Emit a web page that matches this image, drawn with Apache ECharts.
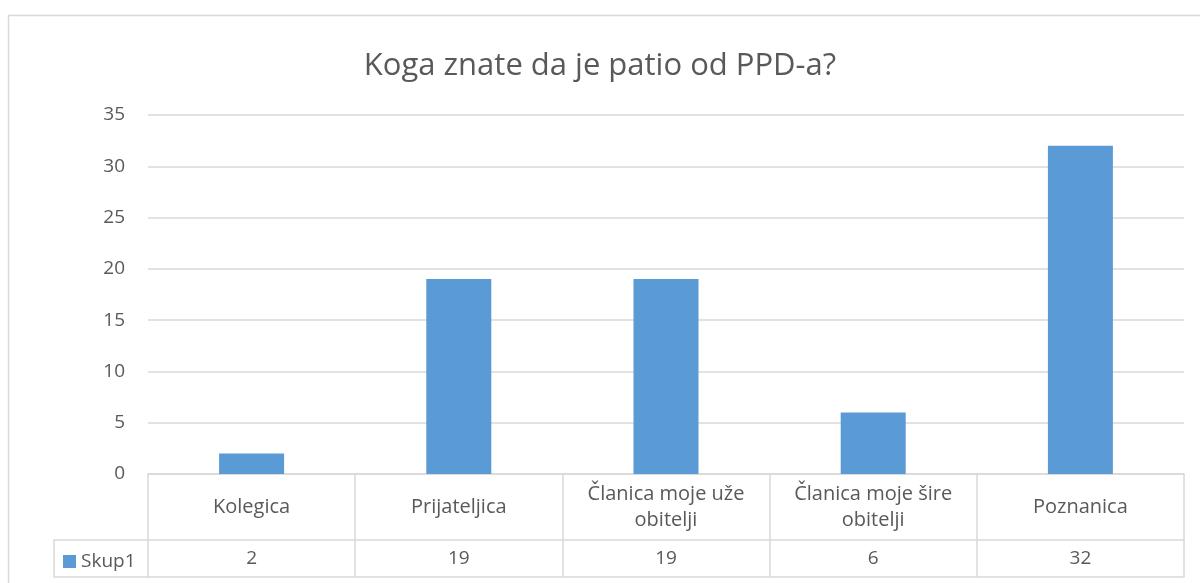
<!DOCTYPE html>
<html>
<head>
<meta charset="utf-8">
<script src="https://cdn.jsdelivr.net/npm/echarts@6/dist/echarts.min.js"></script>
<style>
  html, body { margin: 0; padding: 0; background: #fff; }
  #chart { width: 1200px; height: 583px; }
</style>
</head>
<body>
<div id="chart"></div>
<script>
var categories = ['Kolegica', 'Prijateljica', 'Članica moje uže\nobitelji', 'Članica moje šire\nobitelji', 'Poznanica'];
var values = [2, 19, 19, 6, 32];
var seriesName = 'Skup1';

var FONT = 'Open Sans';
var TXT = '#595959';
var LINE = '#d9d9d9';

var myChart = echarts.init(document.getElementById('chart'));
var option = {
  animation: false,
  textStyle: { fontFamily: FONT },
  title: {
    text: 'Koga znate da je patio od PPD-a?',
    left: 'center',
    top: 46,
    textStyle: { fontFamily: FONT, fontSize: 31, fontWeight: 'normal', color: TXT }
  },
  legend: {
    left: 63,
    top: 552,
    icon: 'rect',
    itemWidth: 13,
    itemHeight: 13,
    itemGap: 5,
    padding: 0,
    textStyle: { fontFamily: FONT, fontSize: 19, color: TXT },
    data: [seriesName]
  },
  grid: { left: 148, right: 16, top: 115, bottom: 109, containLabel: false },
  xAxis: [
    {
      type: 'category',
      data: categories,
      axisLine: { lineStyle: { color: LINE, width: 1.5 } },
      axisTick: { show: true, interval: 0, length: 103, lineStyle: { color: LINE, width: 1.5 } },
      axisLabel: {
        interval: 0, margin: 33, verticalAlign: 'middle',
        fontFamily: FONT, fontSize: 20, lineHeight: 26, color: TXT
      }
    },
    {
      type: 'category',
      data: categories,
      position: 'bottom',
      offset: 66,
      axisLine: { lineStyle: { color: LINE, width: 1.5 } },
      axisTick: { show: false },
      axisLabel: {
        interval: 0, margin: 19, verticalAlign: 'middle',
        fontFamily: FONT, fontSize: 19, color: TXT,
        formatter: function (v, i) { return String(values[i]); }
      }
    },
    {
      type: 'category',
      data: categories,
      position: 'bottom',
      offset: 103,
      axisLine: { lineStyle: { color: LINE, width: 1.5 } },
      axisTick: { show: false },
      axisLabel: { show: false }
    }
  ],
  yAxis: {
    type: 'value',
    min: 0,
    max: 35,
    interval: 5,
    axisLine: { show: false },
    axisTick: { show: false },
    axisLabel: { margin: 23, fontFamily: FONT, fontSize: 19, color: TXT },
    splitLine: { lineStyle: { color: LINE, width: 1.5 } }
  },
  series: [
    {
      name: seriesName,
      type: 'bar',
      data: values,
      barWidth: 65,
      itemStyle: { color: '#5b9bd5' }
    }
  ],
  graphic: [
    {
      type: 'rect',
      shape: { x: 8.5, y: 15.5, width: 1400, height: 800 },
      style: { fill: null, stroke: LINE, lineWidth: 1.5 },
      silent: true
    },
    {
      type: 'polyline',
      shape: { points: [[148, 540], [54, 540], [54, 577], [148, 577]] },
      style: { fill: null, stroke: LINE, lineWidth: 1.5 },
      silent: true
    }
  ]
};
myChart.setOption(option);
window.addEventListener('resize', function () {
  myChart.resize();
});
</script>
</body>
</html>
